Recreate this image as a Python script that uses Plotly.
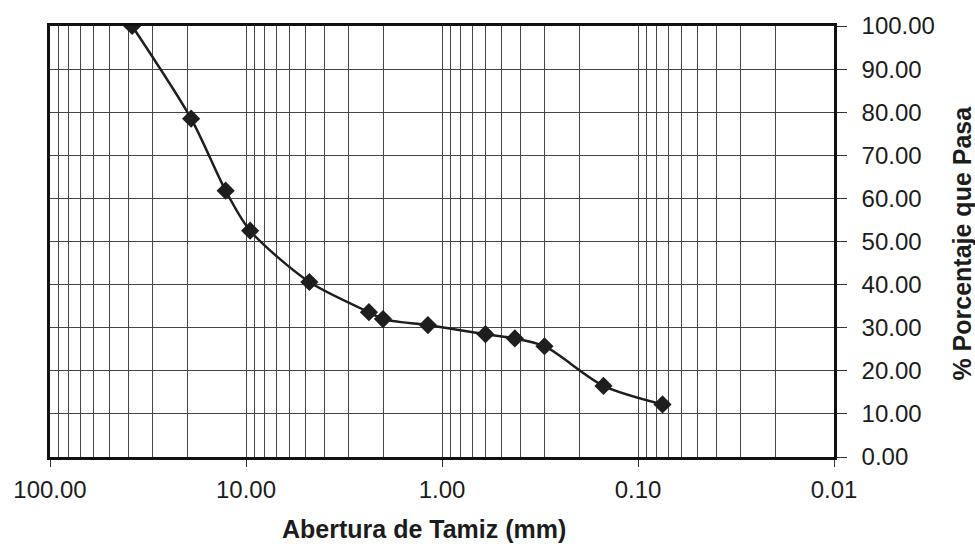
import plotly.graph_objects as go

# Sieve openings (mm) and percent passing
abertura_mm = [38.1, 19.05, 12.7, 9.525, 4.75, 2.36, 2.00, 1.18, 0.60, 0.425, 0.30, 0.15, 0.075]
porcentaje_pasa = [100.0, 78.5, 61.8, 52.5, 40.6, 33.6, 32.0, 30.6, 28.5, 27.5, 25.7, 16.5, 12.2]

x_major_ticks = [100, 10, 1, 0.1, 0.01]
x_tick_labels = ["100.00", "10.00", "1.00", "0.10", "0.01"]
x_minor_ticks = [m * d for d in [0.01, 0.1, 1, 10] for m in range(2, 10)]
y_ticks = list(range(0, 101, 10))
y_tick_labels = [f"{v:.2f}" for v in y_ticks]

x_title = "Abertura de Tamiz (mm)"
y_title = "% Porcentaje que Pasa"

grid = "#454545"
font_family = "Liberation Sans, Arial, sans-serif"

fig = go.Figure()
fig.add_trace(go.Scatter(
    x=abertura_mm, y=porcentaje_pasa,
    mode="lines+markers",
    line=dict(color="#1e1e1e", width=2.5, shape="spline", smoothing=0.8),
    marker=dict(symbol="diamond", size=14, color="#1e1e1e"),
    showlegend=False,
))

fig.update_layout(
    width=975, height=547,
    margin=dict(l=50, r=141, t=20, b=90),
    paper_bgcolor="white", plot_bgcolor="white",
    font=dict(family=font_family, color="#1c1c1c", size=24),
    annotations=[
        dict(text=f"<b>{x_title}</b>", xref="paper", yref="paper",
             x=0.477, y=-0.168, xanchor="center", yanchor="middle",
             showarrow=False, font=dict(size=25, color="#1c1c1c")),
        dict(text=f"<b>{y_title}</b>", xref="paper", yref="paper",
             x=1.163, y=0.497, xanchor="center", yanchor="middle", textangle=-90,
             showarrow=False, font=dict(size=25, color="#1c1c1c")),
    ],
)
fig.update_xaxes(
    type="log", range=[2, -2],
    tickvals=x_major_ticks, ticktext=x_tick_labels,
    showgrid=True, gridcolor=grid, gridwidth=1.3,
    minor=dict(tickvals=x_minor_ticks, showgrid=True, gridcolor=grid, gridwidth=1.1, ticks=""),
    showline=True, linecolor="#111", linewidth=2.5, mirror=True,
    ticks="outside", ticklen=7, tickcolor="#333",
    tickfont=dict(size=24), ticklabelstandoff=2,
    zeroline=False,
)
fig.update_yaxes(
    side="right", range=[0, 100],
    tickvals=y_ticks, ticktext=y_tick_labels,
    showgrid=True, gridcolor=grid, gridwidth=1.3,
    showline=True, linecolor="#111", linewidth=2.5, mirror=True,
    ticks="outside", ticklen=10, tickcolor="#333",
    tickfont=dict(size=24), ticklabelstandoff=10,
    zeroline=False,
)

fig.write_html("out.html")
